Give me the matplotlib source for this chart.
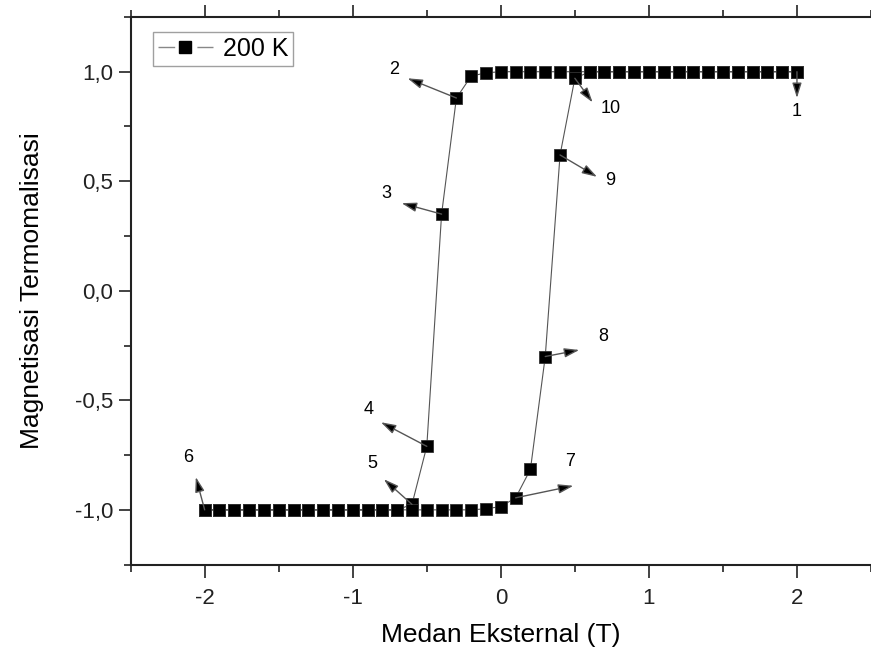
import matplotlib

matplotlib.use("Agg")
import matplotlib.pyplot as plt
from matplotlib.lines import Line2D
from matplotlib.ticker import FuncFormatter, MultipleLocator

plt.rcParams["font.family"] = ["Liberation Sans", "DejaVu Sans"]

# kurva turun: medan 2 T -> -2 T
medan_turun = [2.0, 1.9, 1.8, 1.7, 1.6, 1.5, 1.4, 1.3, 1.2, 1.1, 1.0,
               0.9, 0.8, 0.7, 0.6, 0.5, 0.4, 0.3, 0.2, 0.1, 0.0, -0.1,
               -0.2, -0.3, -0.4, -0.5, -0.6, -0.7, -0.8, -0.9, -1.0,
               -1.1, -1.2, -1.3, -1.4, -1.5, -1.6, -1.7, -1.8, -1.9, -2.0]
mag_turun = [1.0, 1.0, 1.0, 1.0, 1.0, 1.0, 1.0, 1.0, 1.0, 1.0, 1.0,
             1.0, 1.0, 1.0, 1.0, 1.0, 1.0, 1.0, 1.0, 1.0, 1.0, 0.995,
             0.98, 0.88, 0.35, -0.71, -0.975, -1.0, -1.0, -1.0, -1.0,
             -1.0, -1.0, -1.0, -1.0, -1.0, -1.0, -1.0, -1.0, -1.0, -1.0]

# kurva naik: medan -2 T -> 2 T
medan_naik = [-2.0, -1.9, -1.8, -1.7, -1.6, -1.5, -1.4, -1.3, -1.2, -1.1,
              -1.0, -0.9, -0.8, -0.7, -0.6, -0.5, -0.4, -0.3, -0.2, -0.1,
              0.0, 0.1, 0.2, 0.3, 0.4, 0.5, 0.6, 0.7, 0.8, 0.9, 1.0,
              1.1, 1.2, 1.3, 1.4, 1.5, 1.6, 1.7, 1.8, 1.9, 2.0]
mag_naik = [-1.0, -1.0, -1.0, -1.0, -1.0, -1.0, -1.0, -1.0, -1.0, -1.0,
            -1.0, -1.0, -1.0, -1.0, -1.0, -1.0, -1.0, -1.0, -1.0, -0.995,
            -0.985, -0.945, -0.815, -0.30, 0.62, 0.97, 1.0, 1.0, 1.0, 1.0, 1.0,
            1.0, 1.0, 1.0, 1.0, 1.0, 1.0, 1.0, 1.0, 1.0, 1.0]

# penanda urutan: (label, titik data, ujung panah, posisi teks)
label_titik = ["1", "2", "3", "4", "5", "6", "7", "8", "9", "10"]
titik_x = [2.0, -0.3, -0.4, -0.5, -0.6, -2.0, 0.1, 0.3, 0.4, 0.5]
titik_y = [1.0, 0.88, 0.35, -0.71, -0.975, -1.0, -0.945, -0.30, 0.62, 0.97]
ujung_x = [2.0, -0.63, -0.67, -0.81, -0.79, -2.06, 0.49, 0.53, 0.65, 0.62]
ujung_y = [0.88, 0.97, 0.40, -0.60, -0.86, -0.85, -0.89, -0.27, 0.52, 0.86]
teks_x = [2.0, -0.72, -0.77, -0.89, -0.87, -2.11, 0.47, 0.69, 0.74, 0.74]
teks_y = [0.82, 1.01, 0.445, -0.54, -0.79, -0.76, -0.78, -0.21, 0.505, 0.83]

fig = plt.figure(figsize=(8.71, 6.52), dpi=100)
ax = fig.add_axes([0.150, 0.134, 0.850, 0.840])

medan = medan_turun + medan_naik
mag = mag_turun + mag_naik
ax.plot(medan, mag, color="#555555", linewidth=0.8, marker="s",
        markersize=9.3, markerfacecolor="black", markeredgecolor="#333333",
        markeredgewidth=0.6, zorder=2)

for lab, px, py, ux, uy, tx, ty in zip(label_titik, titik_x, titik_y,
                                        ujung_x, ujung_y, teks_x, teks_y):
    ax.annotate("", xy=(ux, uy), xytext=(px, py),
                arrowprops=dict(arrowstyle="-|>,head_length=0.9,head_width=0.28",
                                fc="black", ec="#555555", lw=1.0,
                                shrinkA=0, shrinkB=0), zorder=3)
    ax.text(tx, ty, lab, fontsize=13, ha="center", va="center", zorder=3)

ax.set_xlim(-2.5, 2.5)
ax.set_ylim(-1.25, 1.25)
ax.xaxis.set_major_locator(MultipleLocator(1))
ax.xaxis.set_minor_locator(MultipleLocator(0.5))
ax.yaxis.set_major_locator(MultipleLocator(0.5))
ax.yaxis.set_minor_locator(MultipleLocator(0.25))
ax.xaxis.set_major_formatter(FuncFormatter(lambda v, p: f"{v:.0f}"))
ax.yaxis.set_major_formatter(FuncFormatter(lambda v, p: f"{v:.1f}".replace(".", ",")))

ax.tick_params(which="both", direction="out", top=True, width=1.2, colors="#222222")
ax.tick_params(which="major", length=9, labelsize=16)
ax.tick_params(which="minor", length=5)
ax.tick_params(axis="x", labeltop=False, pad=8)
ax.spines["right"].set_visible(False)
for s in ("left", "bottom", "top"):
    ax.spines[s].set_linewidth(1.5)
    ax.spines[s].set_color("#222222")

ax.set_xlabel("Medan Eksternal (T)", fontsize=19, labelpad=10)
ax.set_ylabel("Magnetisasi Termomalisasi", fontsize=19, labelpad=22)

# legenda: garis - kotak - garis, dengan celah di sekitar kotak
proxy = Line2D([], [], color="#888888", linewidth=1.0, dashes=[12, 16, 12, 60],
               marker="s", markersize=8, markerfacecolor="black",
               markeredgecolor="black")
leg = ax.legend([proxy], ["200 K"], loc="upper left", fontsize=18,
                frameon=True, fancybox=False, handlelength=2.2,
                borderpad=0.2, handletextpad=0.4, borderaxespad=0,
                bbox_to_anchor=(0.03, 0.973))
leg.get_frame().set_edgecolor("#888888")
leg.get_frame().set_linewidth(1.0)

fig.savefig("out.png", dpi=100, facecolor="white")
